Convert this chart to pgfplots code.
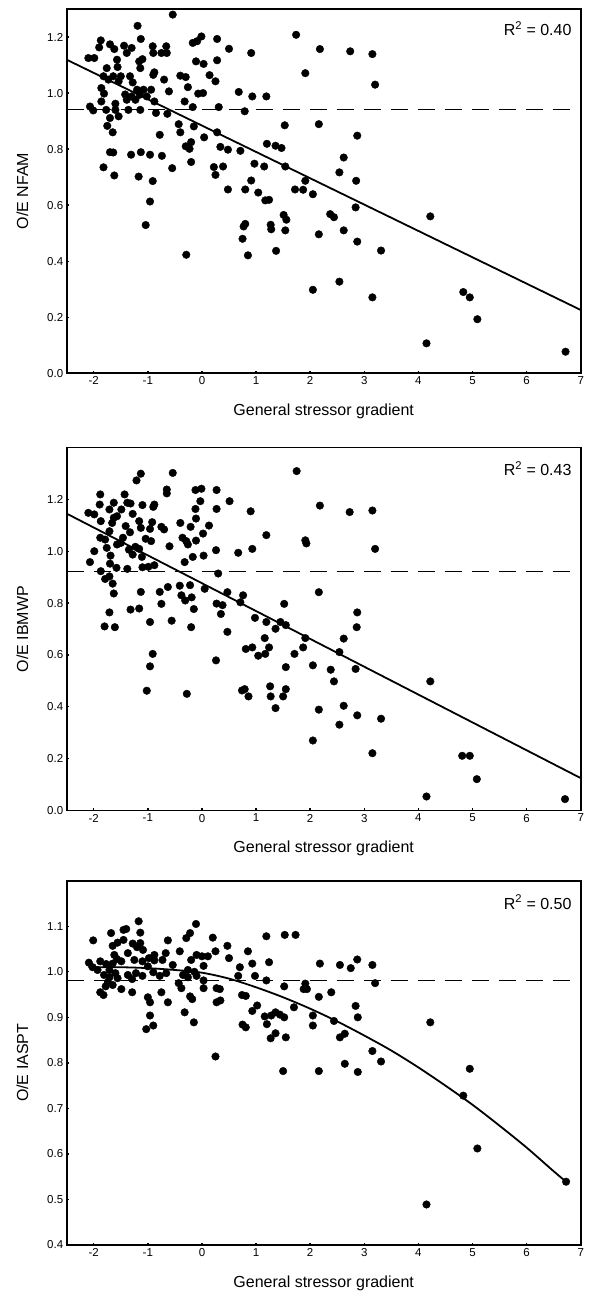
\documentclass[border=0pt]{standalone}
\usepackage{pgfplots}
\pgfplotsset{compat=1.18}
\usepackage{fontspec}
\setmainfont{Liberation Sans}
\pgfplotsset{
  panel/.style={
    scale only axis,
    width=514pt,
    xmin=-2.5, xmax=7,
    xtick={-2,-1,0,1,2,3,4,5,6,7},
    xtick pos=left, ytick pos=left,
    tick align=inside,
    major tick length=2.5pt,
    tick style={black, line width=1.4pt},
    axis line style={line width=1.8pt, line cap=rect},
    /pgf/number format/assume math mode=true,
    tick label style={font=\fontsize{11.5}{13}\selectfont},
    yticklabel style={/pgf/number format/fixed, /pgf/number format/fixed zerofill, /pgf/number format/precision=1},
    xticklabel style={/pgf/number format/fixed},
    label style={font=\fontsize{16}{19}\selectfont},
    xlabel={General stressor gradient},
    xlabel style={at={(axis description cs:0.5,-0.105)}, anchor=center},
    ylabel style={at={(axis description cs:-0.086,0.5)}, anchor=center},
    clip=false,
  },
  dots/.style={only marks, mark=*, mark size=3.8pt, black},
  refl/.style={black, line width=1.2pt, dash pattern=on 17pt off 10pt},
  fitl/.style={black, line width=1.8pt},
}
\begin{document}
\begin{tikzpicture}
\useasboundingbox (0,0) rectangle (589pt,-1297pt);
% ---------------- Panel 1 ----------------
\begin{axis}[panel, at={(66.7pt,-373.3pt)}, anchor=south west,
  height=364.3pt, ymin=0, ymax=1.3,
  ytick={0,0.2,0.4,0.6,0.8,1.0,1.2},
  ylabel={O/E NFAM}]
\addplot[refl] coordinates {(-2.5,0.94) (7,0.94)};
\addplot[fitl] coordinates {(-2.5,1.119) (7,0.226)};
\addplot[dots] coordinates {
(-0.54,1.280) (-1.19,1.240) (-1.87,1.188) (-1.90,1.163) (-2.10,1.125) (-1.99,1.125)
(-1.70,1.174) (-1.62,1.157) (-1.44,1.169) (-1.30,1.161) (-1.39,1.143) (-1.13,1.193)
(-0.91,1.167) (-0.90,1.143) (-0.66,1.167) (-0.65,1.143) (-0.75,1.143) (-1.16,1.113)
(-1.10,1.121) (-1.14,1.089) (-1.57,1.119) (-1.56,1.093) (-1.76,1.089) (-1.82,1.060)
(-1.73,1.048) (-1.64,1.060) (-1.54,1.042) (-1.50,1.060) (-1.33,1.060) (-1.28,1.038)
(-0.90,1.065) (-0.88,1.074) (-0.70,1.048) (-0.61,1.006) (-1.86,1.018) (-1.81,0.998)
(-1.42,0.995) (-1.30,0.988) (-1.20,1.012) (-1.08,1.012) (-0.94,1.012) (-1.15,0.994)
(-1.02,0.988) (-1.23,0.976) (-1.39,0.976) (-2.07,0.952) (-2.01,0.938) (-1.86,0.970)
(-1.77,0.940) (-1.60,0.940) (-1.36,0.940) (-1.60,0.962) (-1.70,0.911) (-1.54,0.917)
(-1.14,0.940) (-0.88,0.970) (-0.85,0.929) (-0.64,0.926) (-1.75,0.883) (-1.65,0.860)
(-1.70,0.789) (-1.64,0.788) (-1.31,0.780) (-1.13,0.789) (-0.96,0.780) (-0.74,0.776)
(-1.82,0.735) (-1.62,0.706) (-1.17,0.702) (-0.91,0.686) (-0.96,0.613) (-1.04,0.529)
(-0.78,0.851) (-0.55,0.732) (-0.29,0.423) (-0.17,1.179) (-0.09,1.185) (-0.01,1.202)
(0.28,1.193) (0.28,1.117) (0.50,1.158) (-0.11,1.113) (0.03,1.104) (0.14,1.064)
(0.25,1.042) (-0.40,1.062) (-0.30,1.057) (-0.26,1.021) (-0.07,0.998) (0.02,1.000)
(-0.32,0.970) (-0.17,0.950) (0.31,0.950) (-0.43,0.889) (-0.15,0.881) (-0.40,0.860)
(0.28,0.860) (0.04,0.842) (-0.30,0.810) (-0.20,0.825) (-0.23,0.801) (-0.20,0.754)
(0.34,0.808) (0.48,0.798) (0.22,0.736) (0.39,0.738) (0.25,0.708) (0.48,0.656)
(0.68,1.004) (0.93,0.988) (0.91,1.143) (0.79,0.935) (0.71,0.794) (0.97,0.748)
(0.91,0.688) (0.80,0.656) (1.04,0.645) (1.15,0.738) (1.19,0.988) (1.20,0.819)
(1.36,0.812) (1.47,0.804) (1.53,0.885) (1.54,0.738) (1.72,0.656) (1.17,0.617)
(1.24,0.619) (0.80,0.533) (0.77,0.524) (0.75,0.480) (0.85,0.421) (1.27,0.530)
(1.28,0.514) (1.37,0.437) (1.51,0.565) (1.56,0.548) (1.54,0.510) (1.74,1.208)
(2.18,1.157) (2.74,1.149) (3.15,1.139) (1.91,1.071) (3.20,1.030) (2.16,0.889)
(2.87,0.848) (2.62,0.770) (2.54,0.717) (1.91,0.687) (2.85,0.687) (1.87,0.655)
(2.05,0.639) (2.84,0.592) (2.37,0.568) (2.44,0.557) (4.22,0.560) (2.16,0.496)
(2.62,0.510) (2.87,0.470) (3.31,0.438) (2.54,0.327) (2.05,0.298) (3.15,0.271)
(4.83,0.290) (4.95,0.271) (5.09,0.193) (4.15,0.107) (6.72,0.077)
};
\node[anchor=north east, font=\fontsize{16}{19}\selectfont, inner sep=0pt] at (axis description cs:1,1) [xshift=-9pt, yshift=-12pt] {R\textsuperscript{2} = 0.40};
\end{axis}
% ---------------- Panel 2 ----------------
\begin{axis}[panel, at={(66.7pt,-810.5pt)}, anchor=south west,
  height=363pt, ymin=0, ymax=1.4,
  ytick={0,0.2,0.4,0.6,0.8,1.0,1.2},
  ylabel={O/E IBMWP}]
\addplot[refl] coordinates {(-2.5,0.922) (7,0.922)};
\addplot[fitl] coordinates {(-2.5,1.145) (7,0.125)};
\addplot[dots] coordinates {
(-1.21,1.273) (-1.13,1.299) (-0.54,1.302) (-0.65,1.238) (-0.65,1.223) (-1.88,1.219)
(-1.43,1.219) (-2.10,1.148) (-1.99,1.142) (-1.89,1.180) (-1.63,1.187) (-1.71,1.161)
(-1.38,1.187) (-1.32,1.184) (-1.10,1.178) (-0.90,1.171) (-0.88,1.180) (-1.49,1.161)
(-1.28,1.144) (-1.87,1.116) (-1.63,1.129) (-1.57,1.135) (-1.66,1.109) (-1.16,1.116)
(-0.92,1.112) (-1.13,1.090) (-0.96,1.086) (-0.75,1.094) (-0.70,1.084) (-1.71,1.077)
(-1.41,1.097) (-1.46,1.052) (-1.33,1.073) (-1.04,1.048) (-0.94,1.039) (-1.88,1.052)
(-1.79,1.045) (-1.99,1.000) (-1.76,1.013) (-1.57,1.026) (-1.50,1.032) (-1.35,1.006)
(-1.23,1.017) (-1.16,1.009) (-1.28,0.987) (-1.11,0.978) (-2.07,0.958) (-1.69,0.983)
(-1.70,0.952) (-1.58,0.936) (-1.38,0.932) (-1.10,0.938) (-0.99,0.940) (-0.88,0.946)
(-1.87,0.923) (-1.79,0.893) (-1.71,0.903) (-1.65,0.875) (-1.63,0.837) (-1.71,0.764)
(-1.80,0.710) (-1.61,0.707) (-1.32,0.775) (-1.16,0.779) (-1.13,0.843) (-0.96,0.727)
(-0.91,0.604) (-0.96,0.556) (-1.02,0.462) (-0.78,0.843) (-0.75,0.797) (-0.63,0.862)
(-0.56,0.732) (-0.60,1.019) (-0.40,1.109) (-0.36,1.052) (-0.29,1.039) (-0.26,1.026)
(-0.21,1.094) (-0.11,1.041) (-0.17,0.978) (0.03,0.983) (-0.32,0.958) (-0.12,1.236)
(-0.01,1.241) (-0.12,1.163) (-0.11,1.126) (-0.03,1.193) (0.13,1.099) (0.02,1.068)
(0.27,1.236) (0.27,1.163) (0.51,1.193) (0.26,1.004) (0.30,0.914) (-0.41,0.867)
(-0.38,0.830) (-0.31,0.810) (-0.22,0.869) (-0.19,0.822) (-0.15,0.777) (-0.20,0.707)
(-0.28,0.450) (0.05,0.855) (0.27,0.798) (0.38,0.792) (0.35,0.758) (0.47,0.842)
(0.47,0.689) (0.26,0.579) (0.67,0.994) (0.93,1.009) (0.90,1.154) (1.19,1.062)
(0.76,0.830) (0.71,0.803) (0.98,0.743) (0.81,0.623) (0.93,0.629) (1.04,0.597)
(1.16,0.665) (1.17,0.604) (1.24,0.629) (1.19,0.727) (1.36,0.701) (1.45,0.727)
(1.52,0.797) (1.55,0.715) (1.55,0.553) (1.71,0.604) (0.74,0.463) (0.79,0.468)
(0.86,0.440) (1.26,0.479) (1.27,0.440) (1.36,0.395) (1.50,0.440) (1.55,0.468)
(1.75,1.309) (2.18,1.176) (2.73,1.151) (3.15,1.157) (1.91,1.042) (1.93,1.030)
(3.20,1.009) (2.16,0.842) (2.87,0.764) (2.86,0.707) (2.62,0.663) (1.91,0.665)
(1.87,0.629) (2.54,0.611) (2.05,0.560) (2.38,0.543) (2.84,0.546) (2.44,0.498)
(4.22,0.498) (2.62,0.404) (2.16,0.389) (2.87,0.367) (3.31,0.354) (2.54,0.331)
(2.05,0.270) (3.15,0.221) (4.81,0.211) (4.95,0.211) (5.08,0.121) (4.15,0.054)
(6.71,0.044)
};
\node[anchor=north east, font=\fontsize{16}{19}\selectfont, inner sep=0pt] at (axis description cs:1,1) [xshift=-9pt, yshift=-14pt] {R\textsuperscript{2} = 0.43};
\end{axis}
% ---------------- Panel 3 ----------------
\begin{axis}[panel, at={(66.7pt,-1245pt)}, anchor=south west,
  height=364.3pt, ymin=0.4, ymax=1.2,
  ytick={0.4,0.5,0.6,0.7,0.8,0.9,1.0,1.1},
  ylabel={O/E IASPT}]
\addplot[refl] coordinates {(-2.5,0.98) (7,0.98)};
\addplot[fitl, smooth] coordinates {(-2.1,1.010) (-1.5,1.010) (-1,1.008) (-0.5,1.004) (0,0.998) (0.5,0.985) (1,0.966) (1.5,0.944) (2,0.919) (2.5,0.891) (3,0.860) (3.5,0.827) (4,0.790) (4.5,0.750) (5,0.708) (5.5,0.662) (6,0.614) (6.5,0.562) (6.73,0.539)};
\addplot[dots] coordinates {
(-1.17,1.111) (-0.11,1.105) (-2.01,1.069) (-1.68,1.085) (-1.45,1.092) (-1.40,1.094)
(-1.14,1.086) (-0.63,1.069) (-0.29,1.074) (-0.22,1.085) (0.20,1.075) (0.47,1.057)
(0.50,1.030) (0.85,1.045) (-1.65,1.057) (-1.56,1.064) (-1.45,1.070) (-1.28,1.062)
(-1.14,1.063) (-1.20,1.054) (-1.37,1.041) (-1.09,1.048) (-1.62,1.037) (-0.41,1.045)
(-0.67,1.041) (-0.88,1.037) (-2.09,1.020) (-2.02,1.010) (-1.88,1.023) (-1.77,1.017)
(-1.57,1.028) (-1.65,1.018) (-1.49,1.023) (-1.25,1.026) (-1.10,1.023) (-0.98,1.030)
(-0.88,1.025) (-0.73,1.026) (-0.54,1.015) (-0.66,0.997) (-1.00,1.012) (-0.90,0.999)
(-0.78,0.991) (-0.10,1.037) (0.00,1.034) (0.11,1.034) (0.25,1.045) (0.03,1.013)
(-0.20,1.026) (-0.26,1.004) (-0.14,1.000) (-0.35,0.993) (-0.43,0.975) (-0.26,0.988)
(-0.10,0.991) (0.03,0.981) (-0.38,0.964) (0.03,0.964) (-1.93,1.004) (-1.81,0.993)
(-1.71,1.004) (-1.60,0.997) (-1.71,0.988) (-1.56,0.986) (-1.65,0.971) (-1.78,0.968)
(-1.74,0.977) (-1.88,0.955) (-1.82,0.949) (-1.49,0.962) (-1.37,0.993) (-1.29,0.984)
(-1.22,0.997) (-1.10,0.991) (-1.29,0.955) (-1.00,0.944) (-0.96,0.933) (-0.75,0.955)
(-0.63,0.933) (-0.96,0.904) (-0.90,0.882) (-1.03,0.874) (-0.32,0.911) (-0.22,0.946)
(-0.18,0.940) (-0.15,0.889) (0.27,0.964) (0.33,0.962) (0.27,0.933) (0.34,0.937)
(0.25,0.814) (0.70,1.010) (0.67,0.991) (0.93,1.018) (0.98,0.991) (1.19,0.981)
(0.74,0.949) (0.81,0.947) (0.75,0.884) (0.81,0.878) (0.93,0.914) (1.02,0.926)
(1.19,1.078) (1.24,1.021) (1.53,1.081) (1.73,1.081) (1.52,0.968) (1.70,0.922)
(1.16,0.902) (1.20,0.885) (1.28,0.904) (1.36,0.911) (1.44,0.906) (1.52,0.900)
(1.27,0.854) (1.36,0.865) (1.55,0.856) (1.50,0.782) (2.18,1.018) (2.55,1.015)
(2.87,1.027) (2.75,1.008) (3.15,1.015) (3.20,0.975) (1.91,0.974) (1.88,0.962)
(1.94,0.962) (2.39,0.955) (2.16,0.945) (2.84,0.925) (2.05,0.904) (2.88,0.900)
(2.44,0.892) (2.05,0.882) (2.64,0.864) (2.55,0.856) (4.22,0.889) (3.15,0.826)
(3.31,0.803) (2.64,0.798) (2.16,0.782) (2.88,0.780) (4.95,0.787) (4.83,0.728)
(5.09,0.612) (4.15,0.489) (6.73,0.539)
};
\node[anchor=north east, font=\fontsize{16}{19}\selectfont, inner sep=0pt] at (axis description cs:1,1) [xshift=-9pt, yshift=-14pt] {R\textsuperscript{2} = 0.50};
\end{axis}
\end{tikzpicture}
\end{document}
